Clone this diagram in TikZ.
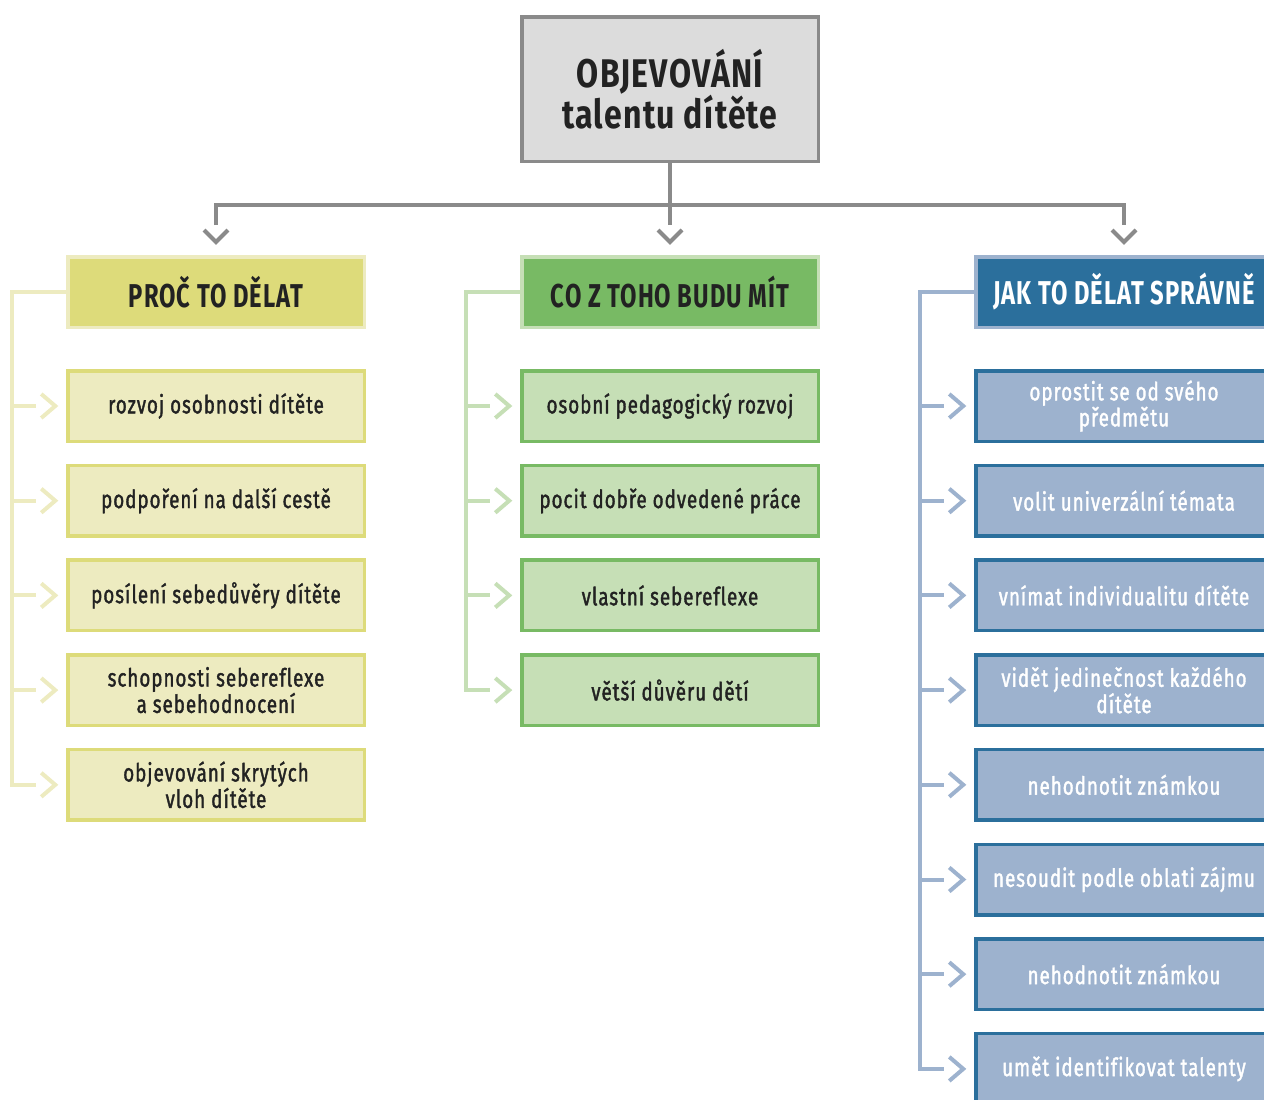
\documentclass[tikz,border=0pt]{standalone}
\usepackage{fontspec}
\setmainfont{Fira Sans}
\newfontfamily\headfont[FakeStretch=0.72,LetterSpace=3]{Fira Sans}
\newfontfamily\titlefont[FakeStretch=0.8,LetterSpace=3]{Fira Sans}
\newfontfamily\itemfont[FakeStretch=0.75,LetterSpace=4,FakeBold=1.5,Ligatures=NoCommon]{Fira Sans}
\usetikzlibrary{positioning}

\definecolor{greyline}{HTML}{8A8A8A}
\definecolor{greyfill}{HTML}{DCDCDC}
\definecolor{yhead}{HTML}{DDDB7A}
\definecolor{ylight}{HTML}{EDEBC0}
\definecolor{ghead}{HTML}{78BA64}
\definecolor{glight}{HTML}{C6DFB6}
\definecolor{bhead}{HTML}{2B6F9C}
\definecolor{blight}{HTML}{9DB2CE}
\definecolor{ink}{HTML}{222222}

\tikzset{
  box/.style={draw, line width=3.5pt, minimum width=296.5pt, minimum height=70.5pt,
    inner sep=0pt, align=center, text=ink},
  headbox/.style={box, font=\headfont\bfseries\fontsize{33}{33}\selectfont},
  itembox/.style={box, font=\itemfont\fontsize{25}{24}\selectfont},
  trunk/.style={line width=4pt, line cap=butt},
  chev/.style={line width=4pt, line join=miter},
}

\begin{document}
\begin{tikzpicture}[x=1pt, y=-1pt]
    \useasboundingbox (0,0) rectangle (1264,1100);

    % Title
    \node[box, draw=greyline, fill=greyfill, minimum height=144.5pt,
          font=\titlefont\bfseries\fontsize{40}{37}\selectfont] (title) at (670,89)
          {OBJEVOVÁNÍ\\talentu dítěte};

    % Column heads
    \node[headbox, draw=ylight, fill=yhead] (lh) at (216,292) {PROČ TO DĚLAT};
    \node[headbox, draw=glight, fill=ghead] (mh) at (670,292) {CO Z TOHO BUDU MÍT};
    \node[headbox, draw=blight, fill=bhead, text=white] (rh) at (1124,292) {JAK TO DĚLAT SPRÁVNĚ};

    % Title to heads
    \coordinate (hub) at (670,205);
    \draw[trunk, greyline] (title.south) -- (hub) -- ([yshift=30pt]mh.north);
    \draw[trunk, greyline] ([yshift=30pt]lh.north) |- (hub) -| ([yshift=30pt]rh.north);
    \foreach \h in {lh, mh, rh} {
        \draw[chev, greyline] ([shift={(-12pt,25pt)}]\h.north) -- ([yshift=13pt]\h.north)
            -- ([shift={(12pt,25pt)}]\h.north);
    }

    % Left column
    \foreach \txt [count=\i] in {rozvoj osobnosti dítěte, podpoření na další cestě,
        posílení sebedůvěry dítěte, {schopnosti sebereflexe\\a sebehodnocení},
        {objevování skrytých\\vloh dítěte}} {
        \node[itembox, draw=yhead, fill=ylight] (l\i) at (216,{406+94.7*(\i-1)}) {\txt};
    }
    \draw[trunk, ylight] (lh.west) -- ++(-53.75,0) coordinate (lt) |- ([xshift=-29.75pt]l5.west);
    \foreach \i in {1,...,5} {
        \draw[trunk, ylight] (lt |- l\i.west) -- ([xshift=-29.75pt]l\i.west);
        \draw[chev, ylight] ([shift={(-24.75pt,12pt)}]l\i.west) -- ([xshift=-10.75pt]l\i.west)
            -- ([shift={(-24.75pt,-12pt)}]l\i.west);
    }

    % Middle column
    \foreach \txt [count=\i] in {osobní pedagogický rozvoj, pocit dobře odvedené práce,
        vlastní sebereflexe, větší důvěru dětí} {
        \node[itembox, draw=ghead, fill=glight] (m\i) at (670,{406+94.7*(\i-1)}) {\txt};
    }
    \draw[trunk, glight] (mh.west) -- ++(-53.75,0) coordinate (mt) |- ([xshift=-29.75pt]m4.west);
    \foreach \i in {1,...,4} {
        \draw[trunk, glight] (mt |- m\i.west) -- ([xshift=-29.75pt]m\i.west);
        \draw[chev, glight] ([shift={(-24.75pt,12pt)}]m\i.west) -- ([xshift=-10.75pt]m\i.west)
            -- ([shift={(-24.75pt,-12pt)}]m\i.west);
    }

    % Right column
    \foreach \txt [count=\i] in {{oprostit se od svého\\předmětu}, volit univerzální témata,
        vnímat individualitu dítěte, {vidět jedinečnost každého\\dítěte}, nehodnotit známkou,
        nesoudit podle oblati zájmu, nehodnotit známkou, umět identifikovat talenty} {
        \node[itembox, draw=bhead, fill=blight, text=white] (r\i) at (1124,{406+94.7*(\i-1)}) {\txt};
    }
    \draw[trunk, blight] (rh.west) -- ++(-53.75,0) coordinate (rt) |- ([xshift=-29.75pt]r8.west);
    \foreach \i in {1,...,8} {
        \draw[trunk, blight] (rt |- r\i.west) -- ([xshift=-29.75pt]r\i.west);
        \draw[chev, blight] ([shift={(-24.75pt,12pt)}]r\i.west) -- ([xshift=-10.75pt]r\i.west)
            -- ([shift={(-24.75pt,-12pt)}]r\i.west);
    }
\end{tikzpicture}
\end{document}
